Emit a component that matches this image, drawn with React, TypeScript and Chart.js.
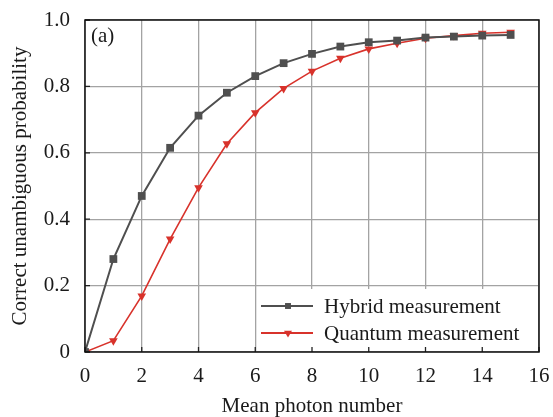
import React, { useEffect, useRef } from 'react';
import { Chart, registerables } from 'chart.js';

Chart.register(...registerables);

const photonNumbers = [0, 1, 2, 3, 4, 5, 6, 7, 8, 9, 10, 11, 12, 13, 14, 15];
const hybridValues = [0, 0.28, 0.47, 0.615, 0.712, 0.781, 0.831, 0.87, 0.898, 0.92, 0.933, 0.938, 0.947, 0.95, 0.953, 0.955];
const quantumValues = [0, 0.034, 0.169, 0.34, 0.495, 0.627, 0.721, 0.794, 0.846, 0.885, 0.913, 0.93, 0.945, 0.953, 0.96, 0.963];
const seriesLabels = ['Hybrid measurement', 'Quantum measurement'];
const xTitle = 'Mean photon number';
const yTitle = 'Correct unambiguous probability';
const panelLabel = '(a)';
const xMin = 0, xMax = 16, xStep = 2;
const yMin = 0, yMax = 1, yStep = 0.2;

const FONT = '"Liberation Serif", "Times New Roman", serif';
const FS = 21;
const GRAY = '#4f4f4f';
const RED = '#d8322b';
const TEXT = '#1a1a1a';

function drawMarker(ctx: CanvasRenderingContext2D, style: string, x: number, y: number, r: number, color: string) {
  ctx.save();
  ctx.fillStyle = color;
  ctx.beginPath();
  if (style === 'rect') {
    const s = r * Math.SQRT2;
    ctx.rect(x - s / 2, y - s / 2, s, s);
  } else {
    ctx.moveTo(x - r * 0.95, y - r * 0.55);
    ctx.lineTo(x + r * 0.95, y - r * 0.55);
    ctx.lineTo(x, y + r * 1.1);
    ctx.closePath();
  }
  ctx.fill();
  ctx.restore();
}

const framePlugin = {
  id: 'frameLegend',
  afterDraw(chart: any) {
    const { ctx, chartArea, scales } = chart;
    const { left, top, right, bottom } = chartArea;
    ctx.save();
    // legend box
    const bx = right - 282;
    const by = bottom - 63;
    ctx.fillStyle = '#ffffff';
    ctx.fillRect(bx, by, right - bx - 1, bottom - by - 1);
    chart.data.datasets.forEach((ds: any, i: number) => {
      const ly = by + 17 + i * 27;
      ctx.strokeStyle = ds.borderColor;
      ctx.lineWidth = 2;
      ctx.beginPath();
      ctx.moveTo(bx + 4, ly);
      ctx.lineTo(bx + 56, ly);
      ctx.stroke();
      drawMarker(ctx, ds.pointStyle, bx + 31, ly, 4.2, ds.pointBackgroundColor);
      ctx.fillStyle = TEXT;
      ctx.font = `${FS}px ${FONT}`;
      ctx.textBaseline = 'middle';
      ctx.textAlign = 'left';
      ctx.fillText(ds.label, bx + 67, ly + 1);
    });
    // panel label
    ctx.fillStyle = TEXT;
    ctx.font = `${FS}px ${FONT}`;
    ctx.textBaseline = 'middle';
    ctx.textAlign = 'left';
    ctx.fillText(panelLabel, left + 6, top + 16);
    // inward ticks
    ctx.strokeStyle = '#222222';
    ctx.lineWidth = 1.3;
    ctx.beginPath();
    scales.x.ticks.forEach((t: any) => {
      const px = scales.x.getPixelForValue(t.value);
      ctx.moveTo(px, bottom);
      ctx.lineTo(px, bottom - 5);
    });
    scales.y.ticks.forEach((t: any) => {
      const py = scales.y.getPixelForValue(t.value);
      ctx.moveTo(left, py);
      ctx.lineTo(left + 5, py);
    });
    ctx.stroke();
    // frame
    ctx.strokeStyle = '#111111';
    ctx.lineWidth = 1.5;
    ctx.strokeRect(left, top, right - left, bottom - top);
    ctx.restore();
  },
};

export default function App() {
  const canvasRef = useRef<HTMLCanvasElement | null>(null);

  useEffect(() => {
    if (!canvasRef.current) return;
    const chart = new Chart(canvasRef.current, {
      type: 'line',
      data: {
        datasets: [
          {
            label: seriesLabels[0],
            data: photonNumbers.map((x, i) => ({ x, y: hybridValues[i] })),
            borderColor: GRAY,
            backgroundColor: GRAY,
            pointBackgroundColor: GRAY,
            pointBorderColor: GRAY,
            pointStyle: 'rect',
            pointRadius: 5.5,
            pointBorderWidth: 0,
            borderWidth: 2,
            tension: 0,
          },
          {
            label: seriesLabels[1],
            data: photonNumbers.map((x, i) => ({ x, y: quantumValues[i] })),
            borderColor: RED,
            backgroundColor: RED,
            pointBackgroundColor: RED,
            pointBorderColor: RED,
            pointStyle: 'triangle',
            rotation: 180,
            pointRadius: 5,
            pointBorderWidth: 0,
            borderWidth: 1.6,
            tension: 0,
          },
        ],
      },
      options: {
        animation: false,
        responsive: true,
        maintainAspectRatio: false,
        layout: { padding: { top: 20, right: 14, left: 0, bottom: 0 } },
        plugins: { legend: { display: false }, tooltip: { enabled: false } },
        scales: {
          x: {
            type: 'linear',
            min: xMin,
            max: xMax,
            ticks: {
              stepSize: xStep,
              color: TEXT,
              font: { family: FONT, size: FS },
              padding: 12,
              maxRotation: 0,
            },
            grid: { color: '#a3a3a3', lineWidth: 1.3, drawTicks: false },
            border: { display: false },
            title: {
              display: true,
              text: xTitle,
              color: TEXT,
              font: { family: FONT, size: FS, lineHeight: 1.0 },
              padding: { top: 0, bottom: 0 },
            },
            afterFit: (s: any) => { s.height = 65; s.paddingLeft = 0; s.paddingRight = 0; },
          },
          y: {
            min: yMin,
            max: yMax,
            ticks: {
              stepSize: yStep,
              color: TEXT,
              font: { family: FONT, size: FS },
              padding: 15,
              callback: (v: any) => (v === 0 ? '0' : Number(v).toFixed(1)),
            },
            grid: { color: '#a3a3a3', lineWidth: 1.3, drawTicks: false },
            border: { display: false },
            title: {
              display: true,
              text: yTitle,
              color: TEXT,
              font: { family: FONT, size: FS },
              padding: { top: 8, bottom: 0 },
            },
            afterFit: (s: any) => { s.width = 85; s.paddingTop = 0; s.paddingBottom = 0; },
          },
        },
      },
      plugins: [framePlugin],
    });
    return () => chart.destroy();
  }, []);

  return (
    <div style={{ position: 'fixed', left: 0, top: 0, width: 553, height: 417, background: '#fff' }}>
      <canvas ref={canvasRef} />
    </div>
  );
}
